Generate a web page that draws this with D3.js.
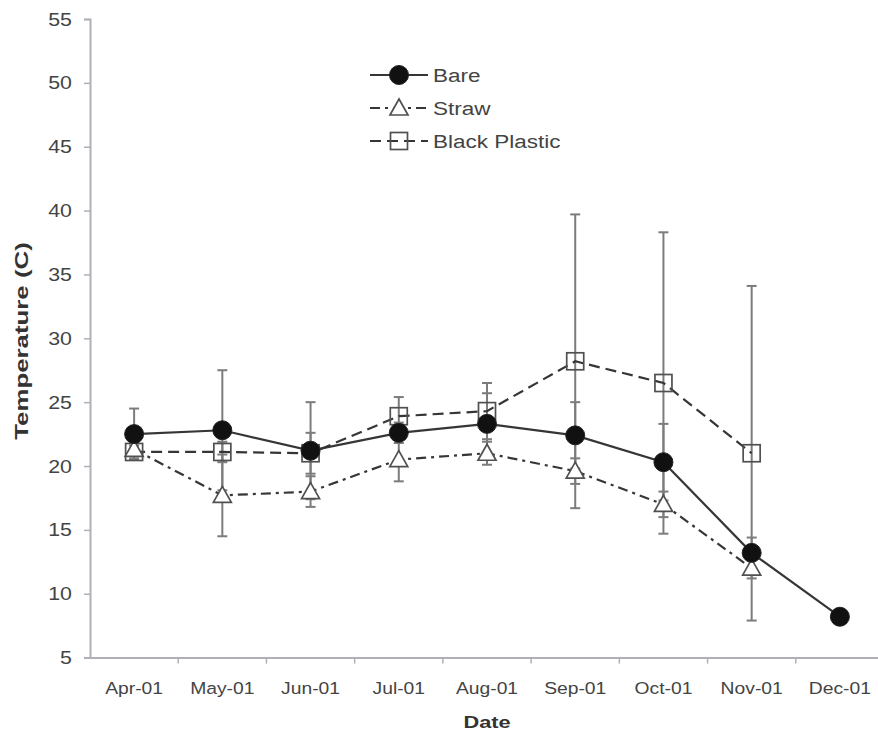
<!DOCTYPE html>
<html>
<head>
<meta charset="utf-8">
<script src="https://cdn.jsdelivr.net/npm/d3@7"></script>
<style>
  html, body { margin: 0; padding: 0; background: #fff; }
  svg { display: block; font-family: "Liberation Sans", Arial, sans-serif; }
</style>
</head>
<body>
<svg id="chart" width="878" height="736"></svg>
<script>
const categories = ["Apr-01","May-01","Jun-01","Jul-01","Aug-01","Sep-01","Oct-01","Nov-01","Dec-01"];
const yTicks = [5,10,15,20,25,30,35,40,45,50,55];

const bareValues    = [22.5, 22.8, 21.2, 22.6, 23.3, 22.4, 20.3, 13.2, 8.2];
const bareErrors    = [2.0, 4.7, 3.8, 0.8, 2.4, 2.6, 3.0, 1.2, 0];
const strawValues   = [21.3, 17.7, 18.0, 20.5, 21.0, 19.6, 17.0, 12.0, null];
const strawErrors   = [0.5, 3.2, 1.2, 1.7, 0.9, 1.0, 1.0, 0.8, null];
const plasticValues = [21.1, 21.1, 21.0, 23.9, 24.3, 28.2, 26.5, 21.0, null];
const plasticErrors = [0.5, 0.8, 1.6, 1.5, 2.2, 11.5, 11.8, 13.1, null];

const seriesNames = ["Bare", "Straw", "Black Plastic"];

const svg = d3.select("#chart");
const lineColor = "#363636";
const errColor = "#7c7c7c";
const axisColor = "#b0b0b8";
const textColor = "#444444";

const x = d3.scaleBand().domain(categories).range([90, 884]).padding(0);
const y = d3.scaleLinear().domain([5, 55]).range([657.6, 19]);
const cx = d => x(d) + x.bandwidth() / 2;

const series = [
  {name: seriesNames[0], values: bareValues, errors: bareErrors, dash: null, marker: "circle"},
  {name: seriesNames[1], values: strawValues, errors: strawErrors, dash: "10,5,3,5", marker: "triangle"},
  {name: seriesNames[2], values: plasticValues, errors: plasticErrors, dash: "11,6", marker: "square"}
];

// Axes
const yAxis = svg.append("g").attr("transform", "translate(90,0)")
  .call(d3.axisLeft(y).tickValues(yTicks).tickSize(6).tickFormat(d3.format("d")));
yAxis.select(".domain").attr("stroke", axisColor).attr("stroke-width", 2);
yAxis.selectAll(".tick line").attr("stroke", axisColor).attr("stroke-width", 1.5);
yAxis.selectAll(".tick text")
  .attr("fill", textColor).style("font-size", "17.5px")
  .attr("x", 0).attr("dy", null).attr("y", 6)
  .attr("transform", "translate(-18,0) scale(1.22,1)");

const xAxis = svg.append("g").attr("transform", "translate(0,657.6)")
  .call(d3.axisBottom(x).tickSize(0).tickSizeOuter(0));
xAxis.select(".domain").attr("stroke", axisColor).attr("stroke-width", 2);
xAxis.selectAll(".tick text")
  .attr("fill", textColor).style("font-size", "16.5px")
  .attr("x", 0).attr("dy", null).attr("y", 0)
  .attr("transform", "translate(0,36) scale(1.17,1)");
// boundary ticks between categories
xAxis.selectAll(".bticks").data(categories.slice(0, -1)).enter().append("line")
  .attr("x1", d => x(d) + x.bandwidth()).attr("x2", d => x(d) + x.bandwidth())
  .attr("y1", 0).attr("y2", 6)
  .attr("stroke", axisColor).attr("stroke-width", 1.5);

// Axis titles
svg.append("text")
  .attr("transform", "translate(28,341) rotate(-90) scale(1.36,1)")
  .attr("text-anchor", "middle")
  .attr("fill", "#333").style("font-size", "19px").style("font-weight", "bold")
  .text("Temperature (C)");
svg.append("text")
  .attr("transform", "translate(487,728) scale(1.28,1)")
  .attr("text-anchor", "middle")
  .attr("fill", "#333").style("font-size", "17px").style("font-weight", "bold")
  .text("Date");

const plot = svg.append("g");

// Error bars
series.forEach(s => {
  const pts = categories.map((c, i) => ({c, v: s.values[i], e: s.errors[i]}))
    .filter(p => p.v != null && p.e != null && p.e > 0);
  const g = plot.append("g");
  g.selectAll("line.v").data(pts).enter().append("line")
    .attr("x1", p => cx(p.c)).attr("x2", p => cx(p.c))
    .attr("y1", p => y(p.v - p.e)).attr("y2", p => y(p.v + p.e))
    .attr("stroke", errColor).attr("stroke-width", 2);
  ["lo", "hi"].forEach(k => {
    g.selectAll("line." + k).data(pts).enter().append("line")
      .attr("x1", p => cx(p.c) - 5).attr("x2", p => cx(p.c) + 5)
      .attr("y1", p => y(k === "lo" ? p.v - p.e : p.v + p.e))
      .attr("y2", p => y(k === "lo" ? p.v - p.e : p.v + p.e))
      .attr("stroke", errColor).attr("stroke-width", 2);
  });
});

// Lines
const line = d3.line().defined(d => d.v != null).x(d => cx(d.c)).y(d => y(d.v));
series.forEach(s => {
  const pts = categories.map((c, i) => ({c, v: s.values[i]}));
  plot.append("path").datum(pts)
    .attr("d", line)
    .attr("fill", "none")
    .attr("stroke", lineColor)
    .attr("stroke-width", 2.2)
    .attr("stroke-dasharray", s.dash);
});

function drawMarker(g, type, px, py) {
  if (type === "circle") {
    g.append("circle").attr("cx", px).attr("cy", py).attr("r", 9.5)
      .attr("fill", "#111").attr("stroke", "#222").attr("stroke-width", 1);
  } else if (type === "triangle") {
    g.append("path")
      .attr("d", `M${px},${py - 9} L${px + 9},${py + 7} L${px - 9},${py + 7} Z`)
      .attr("fill", "#fff").attr("stroke", "#505050").attr("stroke-width", 1.7);
  } else {
    g.append("rect").attr("x", px - 8.5).attr("y", py - 8.5).attr("width", 17).attr("height", 17)
      .attr("fill", "none").attr("stroke", "#505050").attr("stroke-width", 1.7);
  }
}

// Markers: squares, triangles, then circles on top
[2, 1, 0].forEach(si => {
  const s = series[si];
  const g = plot.append("g");
  categories.forEach((c, i) => {
    if (s.values[i] != null) drawMarker(g, s.marker, cx(c), y(s.values[i]));
  });
});

// Legend
const legendRows = [75, 108, 141];
const lg = svg.append("g");
series.forEach((s, i) => {
  const ly = legendRows[i];
  lg.append("line").attr("x1", 370).attr("x2", 428).attr("y1", ly).attr("y2", ly)
    .attr("stroke", lineColor).attr("stroke-width", 2)
    .attr("stroke-dasharray", s.dash);
  drawMarker(lg, s.marker, 399, ly);
  lg.append("text")
    .attr("transform", `translate(433,${ly + 6.5}) scale(1.25,1)`)
    .attr("fill", textColor).style("font-size", "18px")
    .text(s.name);
});
</script>
</body>
</html>
